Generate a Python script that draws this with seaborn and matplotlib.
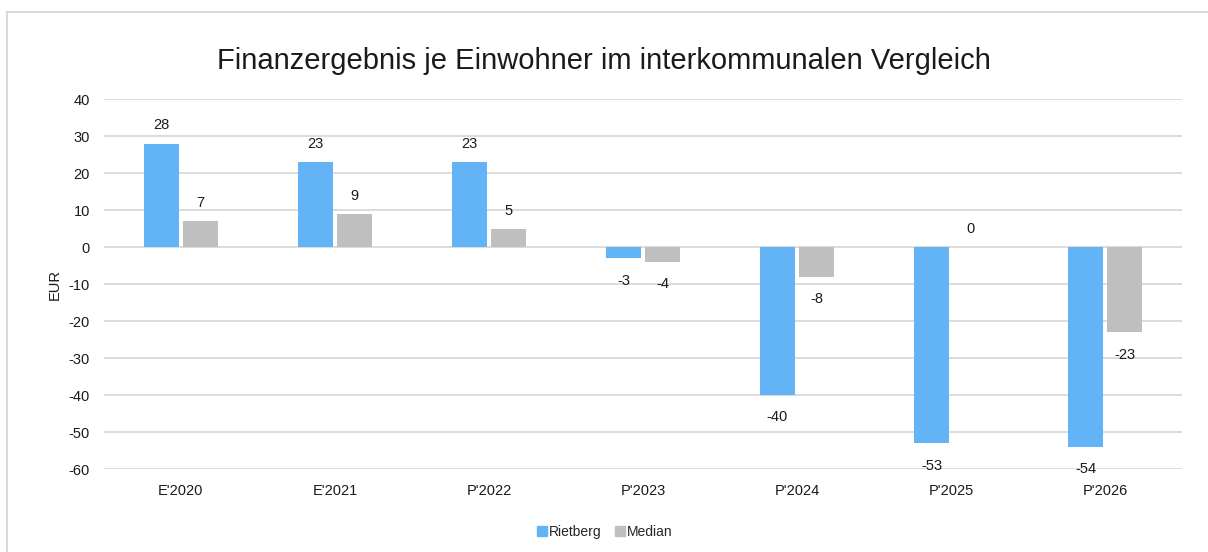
import matplotlib
matplotlib.use("Agg")
import matplotlib.pyplot as plt
import seaborn as sns
import pandas as pd
from matplotlib.lines import Line2D

categories = ["E'2020", "E'2021", "P'2022", "P'2023", "P'2024", "P'2025", "P'2026"]
rietberg = [28, 23, 23, -3, -40, -53, -54]
median = [7, 9, 5, -4, -8, 0, -23]
series_names = ["Rietberg", "Median"]
colors = ["#63B4F6", "#BFBFBF"]
yticks = [40, 30, 20, 10, 0, -10, -20, -30, -40, -50, -60]

df = pd.DataFrame({
    "Jahr": categories * 2,
    "Wert": rietberg + median,
    "Serie": [series_names[0]] * len(categories) + [series_names[1]] * len(categories),
})

sns.set_style("white")
plt.rcParams["font.family"] = ["Liberation Sans", "DejaVu Sans"]
plt.rcParams["axes.unicode_minus"] = False

fig = plt.figure(figsize=(12.08, 5.52), dpi=100)
ax = fig.add_axes([0.086, 0.150, 0.8925, 0.6703])

sns.barplot(data=df, x="Jahr", y="Wert", hue="Serie", order=categories,
            hue_order=series_names, palette=colors, width=0.506, gap=0.12,
            saturation=1, errorbar=None, ax=ax, legend=True, linewidth=0)

ax.set_ylim(-60, 40)
ax.set_xlim(-0.5, len(categories) - 0.5)
ax.set_yticks(yticks)
ax.set_yticklabels([str(t) for t in yticks])
ax.yaxis.grid(True, color="#D9D9D9", linewidth=1.3)
ax.set_axisbelow(True)
for s in ax.spines.values():
    s.set_visible(False)
ax.tick_params(axis="both", length=0, labelsize=10.5, colors="#1a1a1a")
ax.tick_params(axis="y", pad=10)
ax.tick_params(axis="x", pad=11)
ax.set_xlabel("")
ax.set_ylabel("EUR", fontsize=10.5, color="#1a1a1a", labelpad=5)

for cont in ax.containers:
    for b in cont:
        v = b.get_height()
        x = b.get_x() + b.get_width() / 2
        if v >= 0:
            ax.annotate(f"{v:.0f}", (x, v), xytext=(0, 8), textcoords="offset points",
                        ha="center", va="bottom", fontsize=10.5, color="#1a1a1a")
        else:
            ax.annotate(f"{v:.0f}", (x, v), xytext=(0, -11), textcoords="offset points",
                        ha="center", va="top", fontsize=10.5, color="#1a1a1a")

ax.legend_.remove()
handles = [Line2D([], [], marker="s", linestyle="", markersize=7,
                  markerfacecolor=c, markeredgecolor=c) for c in colors]
fig.legend(handles, series_names, loc="center", bbox_to_anchor=(0.5, 0.036),
           ncol=2, frameon=False, fontsize=10, handletextpad=0.0,
           columnspacing=0.8, handlelength=1.0)

fig.suptitle("Finanzergebnis je Einwohner im interkommunalen Vergleich",
             x=0.5, y=0.915, fontsize=21, color="#1a1a1a")

# outer chart frame (left and top edges visible)
fig.add_artist(Line2D([7 / 1208, 7 / 1208], [0, 1 - 12 / 552],
                      transform=fig.transFigure, color="#D9D9D9", linewidth=1.5))
fig.add_artist(Line2D([7 / 1208, 1], [1 - 12 / 552, 1 - 12 / 552],
                      transform=fig.transFigure, color="#D9D9D9", linewidth=1.5))

fig.savefig("out.png", dpi=100)
